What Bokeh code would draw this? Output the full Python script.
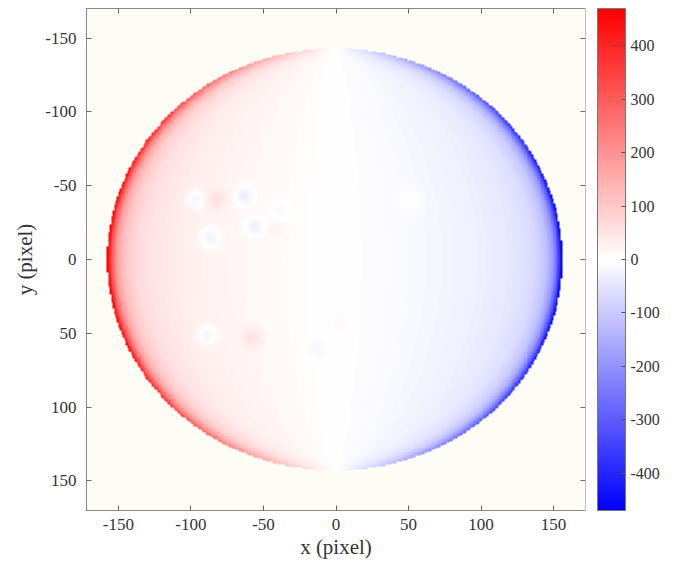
import numpy as np
from bokeh.plotting import figure
from bokeh.models import (LinearColorMapper, ColorBar, Range1d, LinearAxis,
                          FixedTicker, CustomJSTickFormatter)
from bokeh.embed import file_html
from bokeh.resources import INLINE

# ---- data ----
X_RANGE = [-172, 172]
Y_RANGE = [-170, 170]
DISK_CENTER = [-0.8, 0.0]
DISK_SEMI_AXES = [157.0, 143.0]
# amplitude of the rotation signal versus normalised radius on the disk
R_PTS = [0.0, 0.3, 0.5, 0.65, 0.8, 0.88, 0.93, 0.96, 0.98, 1.0]
AMP = [30, 33, 40, 48, 62, 82, 125, 200, 320, 500]
# small features: x, y, size, value
SPOT_X = [-97, -82, -63, -56, -87, -39, -41, -89, -58, -13, 51, 3]
SPOT_Y = [-41, -41, -43, -22, -15, -33, -21, 51, 53, 61, -40, 43]
SPOT_S = [4.5, 4.5, 4.5, 4, 5, 4.5, 4.5, 4.5, 4.5, 4.5, 5, 5]
SPOT_V = [-50, 35, -50, -45, -45, -20, 15, -50, 40, -20, 20, 12]
TICKS = [-150, -100, -50, 0, 50, 100, 150]
CBAR_TICKS = [-400, -300, -200, -100, 0, 100, 200, 300, 400]
V_LIM = 470

# ---- build the map ----
xs = np.arange(X_RANGE[0], X_RANGE[1]) + 0.5
ys = np.arange(Y_RANGE[0], Y_RANGE[1]) + 0.5
X, Y = np.meshgrid(xs, ys)
xn = (X - DISK_CENTER[0]) / DISK_SEMI_AXES[0]
yn = (Y - DISK_CENTER[1]) / DISK_SEMI_AXES[1]
r = np.sqrt(xn**2 + yn**2)
V = -xn * np.interp(r, R_PTS, AMP)
for sx, sy, ss, sv in zip(SPOT_X, SPOT_Y, SPOT_S, SPOT_V):
    V += sv * np.exp(-((X - sx)**2 + (Y - sy)**2) / (2 * ss**2))
V[r > 1] = np.nan

# blue - white - red palette
n = 256
pal = []
for i in range(n):
    t = i / (n - 1)
    if t < 0.5:
        f = t / 0.5
        rr, gg, bb = int(255 * f), int(255 * f), 255
    else:
        f = (t - 0.5) / 0.5
        rr, gg, bb = 255, int(255 * (1 - f)), int(255 * (1 - f))
    pal.append("#%02x%02x%02x" % (rr, gg, bb))

mapper = LinearColorMapper(palette=pal, low=-V_LIM, high=V_LIM, nan_color=(0, 0, 0, 0))

FONT = "Liberation Serif"
hyphen = CustomJSTickFormatter(code="return tick.toFixed(0)")
blank = CustomJSTickFormatter(code="return ''")

p = figure(width=685, height=568, output_backend="svg", toolbar_location=None,
           x_range=Range1d(*X_RANGE), y_range=Range1d(Y_RANGE[1], Y_RANGE[0]),
           min_border_top=8, min_border_left=86, min_border_bottom=58, min_border_right=100)
p.background_fill_color = "#fdfdf5"
p.border_fill_color = "white"
p.outline_line_color = "#888888"
p.grid.visible = False

p.image(image=[V], x=X_RANGE[0], y=Y_RANGE[0], dw=X_RANGE[1] - X_RANGE[0],
        dh=Y_RANGE[1] - Y_RANGE[0], color_mapper=mapper)

for ax in (p.xaxis[0], p.yaxis[0]):
    ax.ticker = FixedTicker(ticks=TICKS)
    ax.formatter = hyphen
    ax.major_tick_in = 5
    ax.major_tick_out = 0
    ax.minor_tick_line_color = None
    ax.axis_line_color = "#888888"
    ax.major_tick_line_color = "#666666"
    ax.major_label_text_font = FONT
    ax.major_label_text_font_size = "17px"
    ax.major_label_text_color = "#333333"
    ax.axis_label_text_font = FONT
    ax.axis_label_text_font_size = "21px"
    ax.axis_label_text_font_style = "normal"
    ax.axis_label_text_color = "#333333"
p.xaxis[0].axis_label = "x (pixel)"
p.yaxis[0].axis_label = "y (pixel)"
p.xaxis[0].major_label_standoff = 8
p.xaxis[0].axis_label_standoff = 2
p.yaxis[0].major_label_standoff = 10
p.yaxis[0].major_label_orientation = "horizontal"

for loc in ("above", "right"):
    a = LinearAxis(ticker=FixedTicker(ticks=TICKS), formatter=blank,
                   major_tick_in=5, major_tick_out=0, minor_tick_line_color=None,
                   axis_line_color="#888888", major_tick_line_color="#666666",
                   major_label_text_font_size="1px", major_label_standoff=0)
    p.add_layout(a, loc)

cb = ColorBar(color_mapper=mapper, ticker=FixedTicker(ticks=CBAR_TICKS), formatter=hyphen,
              width=28, height=502, padding=12, margin=0, location=(0, -12),
              major_tick_in=4, major_tick_out=0, major_tick_line_color="#555555",
              minor_tick_line_color=None, bar_line_color="#777777",
              major_label_text_font=FONT, major_label_text_font_size="16px",
              major_label_text_color="#333333", label_standoff=5)
p.add_layout(cb, "right")

open("out.html", "w").write(file_html(p, INLINE))
